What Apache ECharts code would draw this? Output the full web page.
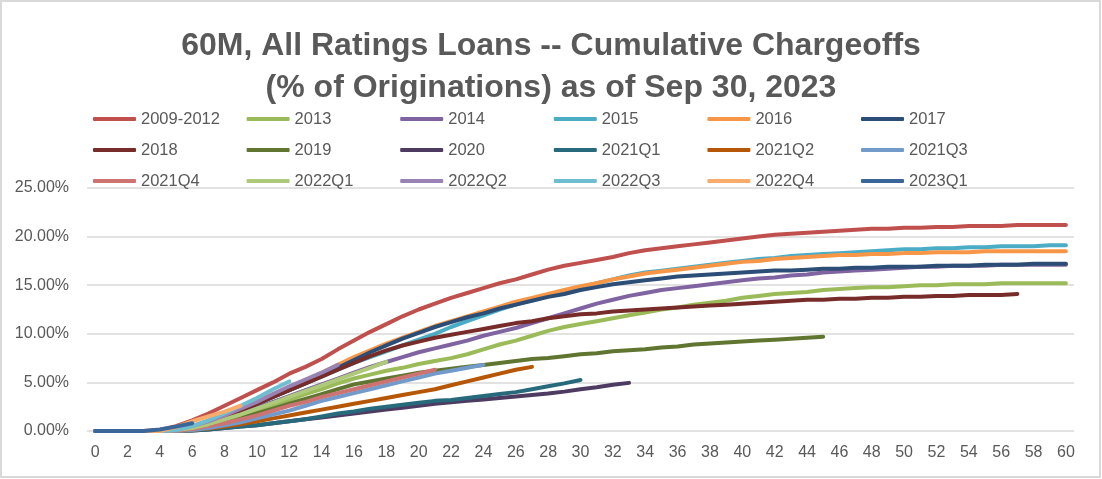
<!DOCTYPE html>
<html>
<head>
<meta charset="utf-8">
<script src="https://cdn.jsdelivr.net/npm/echarts@6/dist/echarts.min.js"></script>
<style>
html,body{margin:0;padding:0;background:#fff;}
#chart{width:1102px;height:479px;}
</style>
</head>
<body>
<div id="chart"></div>
<script>
const categories = ['0','1','2','3','4','5','6','7','8','9','10','11','12','13','14','15','16','17','18','19','20','21','22','23','24','25','26','27','28','29','30','31','32','33','34','35','36','37','38','39','40','41','42','43','44','45','46','47','48','49','50','51','52','53','54','55','56','57','58','59','60'];
const yTicks = [0, 5, 10, 15, 20, 25];

const seriesNames = ['2009-2012','2013','2014','2015','2016','2017','2018','2019','2020','2021Q1','2021Q2','2021Q3','2021Q4','2022Q1','2022Q2','2022Q3','2022Q4','2023Q1'];
const seriesColors = ['#C0504D','#9BBB59','#8064A2','#4BACC6','#F79646','#2C4D75','#772C2A','#5F7530','#4D3B62','#276A7C','#B65708','#729ACA','#CD7371','#AFC97A','#9983B5','#6FBDD1','#F9AB6B','#3A6699'];

const s2009_2012 = [0,0,0,0,0.1,0.5,1.1,1.8,2.6,3.4, 4.2,5.0,5.9,6.6,7.4,8.4,9.3,10.2,11.0,11.8, 12.5,13.1,13.7,14.2,14.7,15.2,15.6,16.1,16.6,17.0, 17.3,17.6,17.9,18.3,18.6,18.8,19.0,19.2,19.4,19.6, 19.8,20.0,20.2,20.3,20.4,20.5,20.6,20.7,20.8,20.8, 20.9,20.9,21.0,21.0,21.1,21.1,21.1,21.2,21.2,21.2, 21.2];
const s2013 = [0,0,0,0,0,0.1,0.3,0.7,1.1,1.6, 2.1,2.7,3.2,3.8,4.3,4.9,5.4,5.8,6.2,6.5, 6.9,7.2,7.5,7.9,8.4,8.9,9.3,9.8,10.3,10.7, 11.0,11.3,11.6,11.9,12.2,12.5,12.7,13.0,13.2,13.4, 13.7,13.9,14.1,14.2,14.3,14.5,14.6,14.7,14.8,14.8, 14.9,15.0,15.0,15.1,15.1,15.1,15.2,15.2,15.2,15.2, 15.2];
const s2014 = [0,0,0,0,0,0.1,0.4,0.8,1.3,1.8, 2.4,3.0,3.6,4.2,4.8,5.4,6.0,6.6,7.1,7.6, 8.1,8.5,8.9,9.3,9.8,10.2,10.6,11.1,11.6,12.1, 12.6,13.1,13.5,13.9,14.2,14.5,14.7,14.9,15.1,15.3, 15.5,15.7,15.8,16.0,16.1,16.3,16.4,16.5,16.6,16.7, 16.8,16.9,16.9,17.0,17.0,17.0,17.1,17.1,17.1,17.1, 17.1];
const s2015 = [0,0,0,0,0,0.1,0.4,0.9,1.5,2.1, 2.8,3.5,4.2,4.9,5.6,6.3,7.0,7.6,8.2,8.8, 9.4,10.0,10.7,11.3,11.9,12.5,13.0,13.5,14.0,14.4, 14.8,15.2,15.6,16.0,16.3,16.5,16.7,16.9,17.1,17.3, 17.5,17.7,17.8,18.0,18.1,18.2,18.3,18.4,18.5,18.6, 18.7,18.7,18.8,18.8,18.9,18.9,19.0,19.0,19.0,19.1, 19.1];
const s2016 = [0,0,0,0,0,0.1,0.5,1.0,1.7,2.4, 3.1,3.8,4.5,5.2,6.0,6.8,7.6,8.3,9.0,9.6, 10.2,10.8,11.3,11.8,12.3,12.8,13.3,13.7,14.1,14.5, 14.9,15.2,15.6,15.9,16.2,16.4,16.6,16.8,17.0,17.2, 17.4,17.5,17.7,17.8,17.9,18.0,18.1,18.1,18.2,18.2, 18.3,18.3,18.4,18.4,18.4,18.5,18.5,18.5,18.5,18.5, 18.5];
const s2017 = [0,0,0,0,0,0.1,0.4,0.9,1.5,2.1, 2.8,3.5,4.2,4.9,5.7,6.5,7.3,8.1,8.8,9.5, 10.1,10.7,11.2,11.7,12.1,12.6,13.0,13.4,13.8,14.1, 14.5,14.8,15.1,15.3,15.5,15.7,15.9,16.0,16.1,16.2, 16.3,16.4,16.5,16.5,16.6,16.7,16.7,16.8,16.8,16.9, 16.9,16.9,17.0,17.0,17.0,17.1,17.1,17.1,17.2,17.2, 17.2];
const s2018 = [0,0,0,0,0,0.1,0.4,0.9,1.5,2.1, 2.8,3.5,4.2,4.9,5.6,6.3,7.0,7.7,8.3,8.8, 9.2,9.6,9.9,10.2,10.5,10.8,11.1,11.3,11.6,11.8, 12.0,12.1,12.3,12.4,12.5,12.6,12.7,12.8,12.9,13.0, 13.1,13.2,13.3,13.4,13.5,13.5,13.6,13.6,13.7,13.7, 13.8,13.8,13.9,13.9,14.0,14.0,14.0,14.1];
const s2019 = [0,0,0,0,0,0.05,0.2,0.5,0.9,1.3, 1.8,2.3,2.8,3.3,3.8,4.3,4.8,5.1,5.4,5.7, 6.0,6.2,6.4,6.6,6.8,7.0,7.2,7.4,7.5,7.7, 7.9,8.0,8.2,8.3,8.4,8.6,8.7,8.9,9.0,9.1, 9.2,9.3,9.4,9.5,9.6,9.7];
const s2020 = [0,0,0,0,0,0,0.05,0.15,0.3,0.45, 0.6,0.8,1.0,1.2,1.4,1.6,1.8,2.0,2.2,2.4, 2.6,2.8,2.95,3.1,3.25,3.4,3.55,3.7,3.85,4.05, 4.3,4.5,4.75,4.95];
const s2021Q1 = [0,0,0,0,0,0,0.05,0.15,0.3,0.45, 0.6,0.8,1.0,1.2,1.5,1.8,2.0,2.3,2.5,2.7, 2.9,3.1,3.2,3.4,3.6,3.8,4.0,4.3,4.6,4.9, 5.25];
const s2021Q2 = [0,0,0,0,0,0,0.1,0.25,0.45,0.7, 1.0,1.3,1.6,1.9,2.2,2.5,2.8,3.1,3.4,3.7, 4.0,4.3,4.7,5.1,5.5,5.9,6.3,6.6];
const s2021Q3 = [0,0,0,0,0,0,0.1,0.3,0.6,0.9, 1.3,1.7,2.1,2.6,3.1,3.5,3.9,4.3,4.7,5.1, 5.5,5.9,6.2,6.5,6.8];
const s2021Q4 = [0,0,0,0,0,0.05,0.2,0.5,0.8,1.2, 1.6,2.1,2.6,3.0,3.5,3.9,4.3,4.7,5.1,5.5, 5.9,6.3];
const s2022Q1 = [0,0,0,0,0,0.1,0.3,0.7,1.2,1.7, 2.3,2.9,3.5,4.1,4.7,5.3,5.9,6.5,7.1];
const s2022Q2 = [0,0,0,0,0,0.1,0.5,1.0,1.6,2.3, 3.0,3.8,4.6,5.3,6.0,6.8];
const s2022Q3 = [0,0,0,0,0,0.1,0.5,1.1,1.8,2.6, 3.4,4.3,5.1];
const s2022Q4 = [0,0,0,0,0,0.4,1.0,1.5,2.0,2.6];
const s2023Q1 = [0,0,0,0,0.15,0.45,0.8];

const seriesData = [s2009_2012,s2013,s2014,s2015,s2016,s2017,s2018,s2019,s2020,s2021Q1,s2021Q2,s2021Q3,s2021Q4,s2022Q1,s2022Q2,s2022Q3,s2022Q4,s2023Q1];

const FONT = "'Liberation Sans', Arial, sans-serif";
const TXT = '#595959';

const legends = [];
for (let c = 0; c < 6; c++) {
  legends.push({
    orient: 'vertical',
    left: 93 + c * 153.6,
    top: 109,
    padding: 0,
    itemWidth: 43,
    itemHeight: 4,
    itemGap: 11,
    icon: 'roundRect',
    data: [seriesNames[c], seriesNames[c + 6], seriesNames[c + 12]],
    textStyle: { color: TXT, fontSize: 16.5, fontFamily: FONT, lineHeight: 20 },
    selectedMode: false
  });
}

const option = {
  backgroundColor: '#ffffff',
  animation: false,
  title: {
    text: '60M, All Ratings Loans -- Cumulative Chargeoffs\n(% of Originations) as of Sep 30, 2023',
    left: 'center',
    top: 20,
    textStyle: { color: TXT, fontSize: 32, fontWeight: 'bold', fontFamily: FONT, lineHeight: 42 }
  },
  legend: legends,
  grid: { left: 87, right: 28, top: 188, bottom: 48, containLabel: false },
  xAxis: {
    type: 'category',
    data: categories,
    boundaryGap: true,
    axisLine: { show: false },
    axisTick: { show: false },
    axisLabel: { interval: 1, color: TXT, fontSize: 16, fontFamily: FONT, margin: 14 }
  },
  yAxis: {
    type: 'value',
    min: yTicks[0],
    max: yTicks[yTicks.length - 1],
    interval: 5,
    axisLine: { show: false },
    axisTick: { show: false },
    splitLine: { lineStyle: { color: '#D9D9D9', width: 1.5 } },
    axisLabel: { color: TXT, fontSize: 16, fontFamily: FONT, margin: 18, formatter: v => v.toFixed(2) + '%' }
  },
  graphic: [{
    type: 'rect', shape: { x: 1, y: 1, width: 1099, height: 476 },
    style: { fill: 'none', stroke: '#D9D9D9', lineWidth: 2 }, silent: true, z: -1
  }],
  series: seriesNames.map((name, i) => ({
    name: name,
    type: 'line',
    data: seriesData[i],
    showSymbol: false,
    symbol: 'none',
    smooth: false,
    color: seriesColors[i],
    lineStyle: { width: 4, color: seriesColors[i], cap: 'round', join: 'round' },
    emphasis: { disabled: true }
  }))
};

const chart = echarts.init(document.getElementById('chart'), null, { renderer: 'canvas' });
chart.setOption(option);
</script>
</body>
</html>
